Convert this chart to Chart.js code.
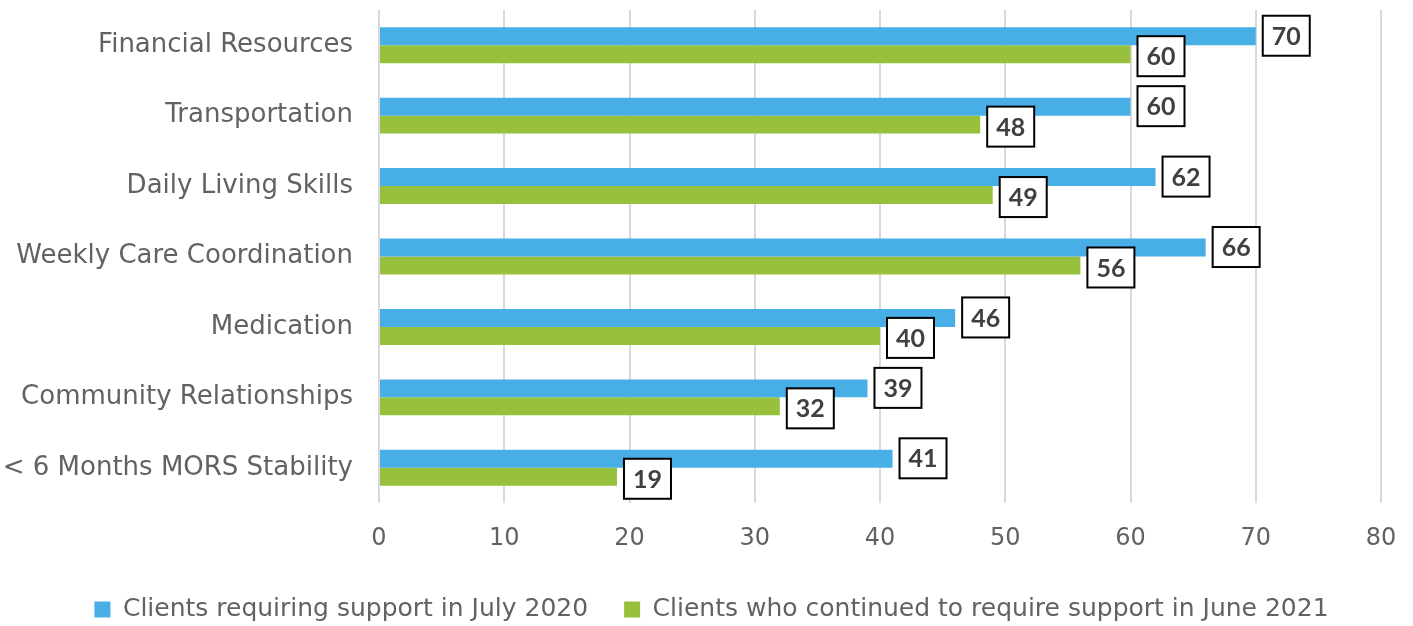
<!DOCTYPE html>
<html>
<head>
<meta charset="utf-8">
<script src="https://cdn.jsdelivr.net/npm/chart.js@4.4.1/dist/chart.umd.min.js"></script>
<style>
html,body{margin:0;padding:0;background:#fff;}
#wrap{width:1413px;height:626px;}
</style>
</head>
<body>
<div id="wrap"><canvas id="c" width="1413" height="626"></canvas></div>
<script>
const categories = ["Financial Resources","Transportation","Daily Living Skills","Weekly Care Coordination","Medication","Community Relationships","< 6 Months MORS Stability"];
const july2020 = [70,60,62,66,46,39,41];
const june2021 = [60,48,49,56,40,32,19];
const seriesNames = ["Clients requiring support in July 2020","Clients who continued to require support in June 2021"];
const xTicks = [0,10,20,30,40,50,60,70,80];

const BLUE = '#47AEE6', GREEN = '#97C13C', TXT = '#626262';
const AXIS_FONT = "'DejaVu Sans', sans-serif";

const labelPlugin = {
  id: 'boxLabels',
  afterLayout(chart) {
    const lg = chart.legend;
    if (lg) { lg.left += 21; lg.right += 21; }
  },
  afterDatasetsDraw(chart) {
    const ctx = chart.ctx;
    ctx.save();
    ctx.font = "700 25px 'Lato', sans-serif";
    ctx.textAlign = 'center';
    ctx.textBaseline = 'middle';
    chart.data.datasets.forEach((ds, di) => {
      const meta = chart.getDatasetMeta(di);
      meta.data.forEach((el, i) => {
        const w = 47, h = 40;
        const x0 = el.x + 7;
        const yc = el.y + (di === 0 ? -0.5 : 2);
        ctx.fillStyle = '#fff';
        ctx.fillRect(x0, yc - h/2, w, h);
        ctx.strokeStyle = '#000';
        ctx.lineWidth = 2;
        ctx.strokeRect(x0, yc - h/2, w, h);
        ctx.fillStyle = '#404040';
        ctx.fillText(String(ds.data[i]), x0 + w/2, yc + 1);
      });
    });
    ctx.restore();
  }
};

new Chart(document.getElementById('c'), {
  type: 'bar',
  data: {
    labels: categories,
    datasets: [
      {label: seriesNames[0], data: july2020, backgroundColor: BLUE, barPercentage: 1, categoryPercentage: 0.51},
      {label: seriesNames[1], data: june2021, backgroundColor: GREEN, barPercentage: 1, categoryPercentage: 0.51}
    ]
  },
  options: {
    indexAxis: 'y',
    responsive: false,
    animation: false,
    layout: {padding: {top: 10, right: 32, left: 0, bottom: 0}},
    scales: {
      x: {
        min: 0, max: 80,
        afterBuildTicks(scale){ scale.ticks = xTicks.map(v => ({value: v})); },
        ticks: {color: TXT, font: {family: AXIS_FONT, size: 24}, padding: 21},
        grid: {color: '#d9d9d9', lineWidth: 2, drawTicks: false},
        border: {display: false},
        afterFit(scale){ scale.height = 58; scale.paddingLeft = 0; scale.paddingRight = 0; }
      },
      y: {
        ticks: {color: TXT, font: {family: AXIS_FONT, size: 26}, padding: 26},
        grid: {display: false, drawTicks: false},
        border: {display: false},
        afterFit(scale){ scale.width = 379; scale.paddingTop = 0; scale.paddingBottom = 0; }
      }
    },
    plugins: {
      legend: {
        position: 'bottom',
        maxHeight: 65,
        labels: {color: TXT, font: {family: AXIS_FONT, size: 25}, boxWidth: 16, boxHeight: 16, padding: 36}
      },
      tooltip: {enabled: false}
    }
  },
  plugins: [labelPlugin]
});
</script>
</body>
</html>
